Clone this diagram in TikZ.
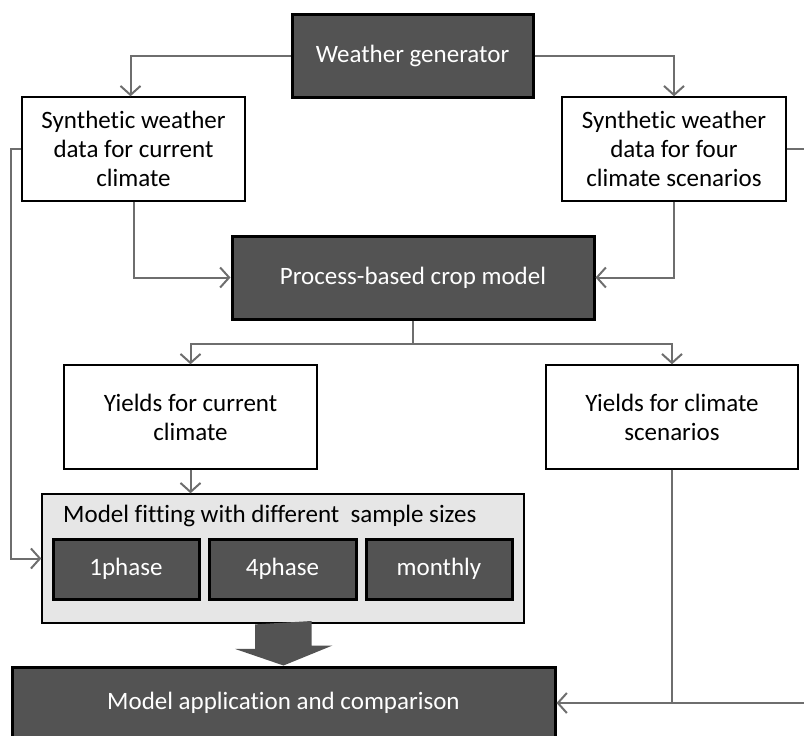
\documentclass[tikz,border=0pt]{standalone}
\usepackage{fontspec}
\setmainfont{Carlito}[Ligatures=NoCommon]
\usetikzlibrary{arrows.meta,calc}
\definecolor{darkbox}{HTML}{535353}
\definecolor{linegray}{HTML}{6E6E6E}
\definecolor{lightbox}{HTML}{E6E6E6}
\begin{document}
\begin{tikzpicture}[x=1pt,y=-1pt,
  every node/.style={font=\fontsize{25}{29}\selectfont, inner sep=0pt, align=center},
  darknode/.style={draw=black, line width=3pt, fill=darkbox, text=white},
  whitenode/.style={draw=black, line width=1.4pt, fill=white, text=black},
  conn/.style={draw=linegray, line width=2pt, -{Straight Barb[length=9pt,width=20pt,line width=2pt]}},
  plainline/.style={draw=linegray, line width=2pt}]
\useasboundingbox (0,0) rectangle (804,736);
% nodes
\node[darknode, minimum width=241, minimum height=83] (wg) at (412.5,55.5) {Weather generator};
\node[whitenode, minimum width=223, minimum height=104] (syn1) at (133.5,149) {Synthetic weather\\data for current\\climate};
\node[whitenode, minimum width=224, minimum height=104] (syn2) at (674,149) {Synthetic weather\\data for four\\climate scenarios};
\node[darknode, minimum width=362, minimum height=83] (proc) at (413,277.5) {Process-based crop model};
\node[whitenode, minimum width=253, minimum height=104] (y1) at (190.5,417) {Yields for current\\climate};
\node[whitenode, minimum width=252, minimum height=104] (y2) at (672,417) {Yields for climate\\scenarios};
\node[draw=black, line width=1.4pt, fill=lightbox, minimum width=482, minimum height=129] (fit) at (283,558.5) {};
\node[anchor=west] (fittitle) at (63,516) {Model fitting with different\ \ sample sizes};
\node[darknode, minimum width=146, minimum height=60] (p1) at (126,569) {1phase};
\node[darknode, minimum width=147, minimum height=60] (p4) at (282.5,569) {4phase};
\node[darknode, minimum width=146, minimum height=60] (pm) at (439,569) {monthly};
\node[darknode, minimum width=543, minimum height=72] (app) at (283.5,703) {Model application and comparison};
% connectors
\draw[conn] (wg.west) -| ($(syn1.north)+(-3,0)$);
\draw[conn] (wg.east) -| (syn2.north);
\draw[conn] (syn1.south) |- (proc.west);
\draw[conn] (syn2.south) |- (proc.east);
\draw[plainline] (proc.south) -- ++(0,23) coordinate (split);
\draw[conn] (split) -| (y1.north);
\draw[conn] (split) -| (y2.north);
\draw[conn] (y1.south) -- (y1.south |- fit.north);
\draw[conn] (syn1.west) -- ++(-10,0) coordinate (lcorner) |- (fit.west);
\draw[conn] (y2.south) |- (app.east);
\draw[plainline] (y2.south |- app.east) -- ++(160,0) coordinate (bcorner);
\draw[plainline] (syn2.east) -- ++(40,0) coordinate (rcorner);
% block arrow
\fill[darkbox] ($(fit.south)+(-28,0.7)$) -- ++(0,24.5) -- ++(-20,0) -- (app.north) -- ++(49,-20) -- ++(-21,0) -- ++(0,-24.5) -- cycle;
\end{tikzpicture}
\end{document}
